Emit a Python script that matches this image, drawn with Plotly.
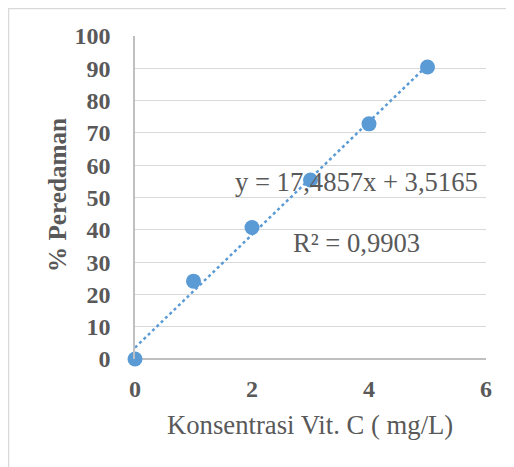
import plotly.graph_objects as go

konsentrasi = [0, 1, 2, 3, 4, 5]
peredaman = [0, 24.1, 40.7, 55.4, 72.8, 90.4]
slope = 17.4857
intercept = 3.5165
eq_text = "y = 17,4857x + 3,5165"
r2_text = "R² = 0,9903"
x_title = "Konsentrasi Vit. C ( mg/L)"
y_title = "% Peredaman"
x_ticks = [0, 2, 4, 6]
y_ticks = list(range(0, 101, 10))

trend_x = [min(konsentrasi), max(konsentrasi)]
trend_y = [slope * v + intercept for v in trend_x]

font_serif = "Liberation Serif, Times New Roman, serif"
blue = "#5b9bd5"
gray_txt = "#595959"

fig = go.Figure()
fig.add_trace(go.Scatter(x=trend_x, y=trend_y, mode="lines",
                         line=dict(color=blue, width=2.5, dash="dot"),
                         hoverinfo="skip", showlegend=False))
fig.add_trace(go.Scatter(x=konsentrasi, y=peredaman, mode="markers",
                         marker=dict(color=blue, size=15),
                         showlegend=False, cliponaxis=False))

fig.add_annotation(x=3.78, y=54.8, text=eq_text, showarrow=False,
                   font=dict(family=font_serif, size=26.6, color=gray_txt),
                   xanchor="center", yanchor="middle")
fig.add_annotation(x=3.78, y=35.9, text=r2_text, showarrow=False,
                   font=dict(family=font_serif, size=26.6, color=gray_txt),
                   xanchor="center", yanchor="middle")

fig.add_annotation(xref="paper", yref="paper", x=0.4986, y=-0.2043,
                   text=x_title, showarrow=False,
                   font=dict(family=font_serif, size=26.7, color=gray_txt),
                   xanchor="center", yanchor="middle")
fig.add_annotation(xref="paper", yref="paper", x=-0.2222, y=0.5077,
                   text=y_title, showarrow=False, textangle=-90,
                   font=dict(family=font_serif, size=25.2, color=gray_txt, weight="bold"),
                   xanchor="center", yanchor="middle")

# outer chart border
fig.add_shape(type="rect", xref="paper", yref="paper",
              x0=-0.3604, y0=-0.45, x1=1.3, y1=1.085,
              line=dict(color="#d9d9d9", width=1.5), layer="below")

fig.update_layout(
    width=506, height=459,
    margin=dict(l=127, r=28, t=28, b=108),
    paper_bgcolor="white", plot_bgcolor="white",
    font=dict(family=font_serif, color=gray_txt),
    xaxis=dict(range=[0, 6], tickvals=x_ticks, showgrid=False, zeroline=False,
               showline=False, ticks="", ticklabelstandoff=13,
               tickfont=dict(family=font_serif, size=24, color=gray_txt, weight="bold")),
    yaxis=dict(range=[0, 100], tickvals=y_ticks, showgrid=True,
               gridcolor="#d9d9d9", gridwidth=1.3, zeroline=True,
               zerolinecolor="#bfbfbf", zerolinewidth=1.5,
               showline=True, linecolor="#bfbfbf", linewidth=1.5, ticks="",
               ticklabelstandoff=18,
               tickfont=dict(family=font_serif, size=24, color=gray_txt, weight="bold")),
)

fig.write_html("out.html")
